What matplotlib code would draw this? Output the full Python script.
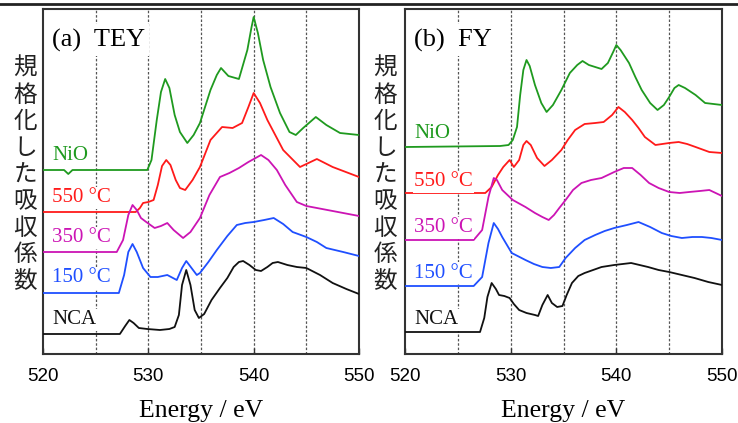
import matplotlib
matplotlib.use("Agg")
import matplotlib.pyplot as plt
from matplotlib.lines import Line2D

# ---- (a) TEY ----
tey_nio_e = [520, 522.0, 522.4, 522.8, 529.9, 530.3, 530.8, 531.2, 531.6, 532.0, 532.5, 533.0, 533.7, 534.3, 534.9,
             535.9, 536.5, 536.9, 537.6, 538.6, 539.4, 539.8, 540.0, 540.4, 540.9, 541.6, 542.5, 543.4, 544.0, 544.7,
             545.9, 546.9, 548.2, 550]
tey_nio = [184, 184, 180, 184, 184, 194, 234, 262, 275, 266, 239, 222, 211, 219, 231, 264, 279, 286, 278, 275, 304,
           327, 337, 321, 294, 267, 241, 222, 219, 226, 237, 229, 221, 219]

tey_550_e = [520, 528.8, 529.2, 529.5, 530.0, 530.5, 530.9, 531.3, 531.7, 532.1, 532.6, 533.0, 533.5, 534.2, 534.9,
             535.9, 537.0, 538.0, 538.9, 539.5, 540.0, 540.6, 541.3, 542.8, 544.4, 546.0, 547.5, 550]
tey_550 = [142, 142, 146, 151, 152, 154, 169, 188, 194, 189, 174, 166, 164, 174, 187, 214, 227, 226, 231, 247, 261,
           251, 234, 204, 187, 195, 187, 177]

tey_350_e = [520, 527.0, 527.6, 528.1, 528.5, 528.9, 529.3, 529.8, 530.6, 531.2, 531.8, 532.4, 533.3, 534.0, 534.9,
             535.8, 536.8, 537.7, 538.6, 539.5, 540.7, 541.4, 542.2, 543.0, 544.1, 545.0, 546.5, 548.0, 550]
tey_350 = [102, 102, 114, 139, 149, 144, 136, 132, 126, 128, 131, 124, 116, 122, 136, 159, 177, 181, 186, 192, 199,
           194, 184, 169, 152, 148, 145, 142, 138]

tey_150_e = [520, 527.2, 527.7, 528.1, 528.5, 528.9, 529.5, 530.2, 530.9, 531.8, 532.7, 533.2, 533.6, 534.1, 534.6,
             534.9, 535.7, 536.5, 537.5, 538.4, 539.2, 540.0, 541.0, 541.9, 542.8, 543.7, 545.0, 546.0, 546.9, 548.5,
             550]
tey_150 = [61, 61, 79, 102, 110, 102, 86, 77, 77, 79, 74, 86, 93, 86, 79, 81, 92, 104, 118, 129, 131, 132, 134, 136,
           130, 122, 117, 112, 106, 102, 98]

tey_nca_e = [520, 527.3, 527.8, 528.2, 528.6, 529.1, 529.9, 531.1, 532.0, 532.5, 532.9, 533.2, 533.6, 534.0, 534.4,
             534.8, 535.3, 536.0, 536.8, 537.5, 538.1, 538.6, 539.0, 539.6, 540.2, 540.7, 541.3, 541.8, 542.3, 543.2,
             544.1, 545.0, 546.3, 547.5, 548.8, 550]
tey_nca = [20, 20, 28, 34, 31, 26, 25, 24, 25, 27, 39, 69, 84, 69, 44, 36, 40, 54, 66, 76, 87, 92, 93, 89, 84, 83,
           87, 91, 92, 89, 87, 86, 79, 71, 65, 60]

# ---- (b) FY ----
fy_nio_e = [520, 529.0, 529.8, 530.2, 530.6, 530.9, 531.2, 531.5, 531.8, 532.3, 532.9, 533.4, 534.0, 534.8, 535.6,
            536.3, 536.8, 537.4, 538.0, 538.6, 539.2, 539.7, 540.0, 540.4, 541.2, 541.8, 542.4, 543.2, 543.9, 544.5,
            545.0, 545.5, 545.9, 546.5, 547.5, 548.4, 550]
fy_nio = [207, 208, 209, 214, 227, 259, 284, 294, 288, 269, 251, 242, 249, 264, 281, 289, 293, 289, 287, 285, 291,
          302, 309, 304, 291, 277, 264, 251, 244, 249, 257, 266, 269, 266, 259, 251, 249]

fy_550_e = [520, 527.6, 528.2, 528.8, 529.3, 529.9, 530.3, 530.8, 531.2, 531.5, 531.9, 532.5, 533.2, 533.9, 534.8,
            535.4, 536.1, 537.0, 538.0, 538.8, 539.6, 540.2, 540.8, 541.5, 542.1, 542.7, 543.7, 545.0, 545.9, 546.7,
            547.5, 548.8, 550]
fy_550 = [161, 161, 167, 179, 187, 194, 187, 194, 209, 213, 209, 196, 188, 194, 204, 214, 224, 230, 231, 232, 239,
          247, 242, 234, 226, 217, 209, 211, 212, 210, 207, 202, 201]

fy_350_e = [520, 526.5, 527.3, 527.9, 528.4, 528.7, 529.2, 530.2, 531.4, 532.3, 533.0, 533.6, 534.1, 534.6, 535.2,
            535.9, 536.7, 537.6, 538.6, 539.8, 540.7, 541.5, 542.3, 543.1, 544.0, 545.0, 546.0, 546.9, 547.9, 548.8,
            550]
fy_350 = [114, 114, 124, 157, 176, 174, 164, 154, 147, 141, 137, 134, 139, 146, 154, 164, 171, 174, 176, 182, 186,
          186, 179, 171, 166, 162, 161, 162, 163, 164, 158]

fy_150_e = [520, 526.5, 527.3, 527.9, 528.4, 528.8, 529.2, 530.1, 531.4, 532.2, 533.0, 533.8, 534.6, 535.2, 536.1,
            537.0, 538.0, 538.9, 539.8, 541.0, 542.1, 543.2, 544.3, 545.2, 546.2, 547.2, 548.1, 549.0, 550]
fy_150 = [68, 68, 77, 111, 131, 125, 117, 101, 94, 90, 87, 86, 87, 96, 106, 114, 119, 123, 126, 129, 132, 127, 121,
          118, 116, 117, 117, 116, 114]

fy_nca_e = [520, 527.1, 527.5, 527.8, 528.2, 528.6, 528.9, 529.4, 529.9, 530.3, 530.8, 531.5, 532.3, 532.6, 533.0,
            533.5, 533.9, 534.4, 534.9, 535.3, 535.8, 536.4, 537.0, 537.8, 538.6, 539.8, 540.6, 541.4, 542.2, 543.0,
            544.0, 545.0, 546.2, 547.4, 548.7, 550]
fy_nca = [22, 22, 36, 57, 71, 65, 59, 58, 56, 50, 44, 41, 39, 38, 49, 59, 51, 47, 48, 59, 71, 78, 81, 84, 87, 89, 90,
          91, 89, 87, 84, 82, 79, 76, 72, 69]

labels = ["NiO", "550 °C", "350 °C", "150 °C", "NCA"]
colors = ["#1f9a1f", "#ff1a1a", "#cc14b4", "#1f4fff", "#111111"]
tey_label_y = [199, 156, 116, 76, 34]
fy_label_y = [220, 172, 126, 81, 34]

serif = "Liberation Serif"
sans = "Liberation Sans"

fig = plt.figure(figsize=(7.38, 4.23), dpi=100)
ax1 = fig.add_axes([43 / 738, 69 / 423, 316 / 738, 345 / 423])
ax2 = fig.add_axes([405 / 738, 69 / 423, 317 / 738, 345 / 423])

panels = [
    (ax1, "(a)  TEY", [(tey_nio_e, tey_nio), (tey_550_e, tey_550), (tey_350_e, tey_350), (tey_150_e, tey_150),
                       (tey_nca_e, tey_nca)], tey_label_y),
    (ax2, "(b)  FY", [(fy_nio_e, fy_nio), (fy_550_e, fy_550), (fy_350_e, fy_350), (fy_150_e, fy_150),
                      (fy_nca_e, fy_nca)], fy_label_y),
]

for ax, title, curves, lab_y in panels:
    for xg in [525, 530, 535, 540, 545]:
        ax.axvline(xg, color="#555555", lw=0.9, ls=(0, (2, 1.5)), zorder=1)
    for (e, v), c in zip(curves, colors):
        ax.plot(e, v, color=c, lw=1.3, zorder=3)
    for lab, yy, c in zip(labels, lab_y, colors):
        ax.text(520.85, yy, lab, color=c, fontsize=15, family=serif, va="center", ha="left", zorder=4,
                bbox=dict(facecolor="white", edgecolor="none", pad=1))
    ax.text(0.028, 0.91, title, transform=ax.transAxes, fontsize=19, family=serif, va="center", ha="left",
            zorder=4, bbox=dict(facecolor="white", edgecolor="none", pad=3))
    ax.set_xlim(520, 550)
    ax.set_ylim(0, 345)
    ax.set_xticks([520, 530, 540, 550])
    ax.set_yticks([])
    ax.tick_params(axis="x", direction="in", length=4, width=1, pad=10, labelsize=13.5, color="#333333")
    for t in ax.get_xticklabels():
        t.set_family(sans)
    ax.set_xlabel("Energy / eV", fontsize=18.5, family=serif, labelpad=11)
    for s in ax.spines.values():
        s.set_color("#333333")
        s.set_linewidth(1.5)

# vertical japanese y labels
ylab = "\n".join("規格化した吸収係数")
fig.text(25 / 738, 1 - 175 / 423, ylab, fontsize=17, family=["Noto Sans CJK JP", "DejaVu Sans"],
         ha="center", va="center", linespacing=1.2, color="#222222")
fig.text(385 / 738, 1 - 175 / 423, ylab, fontsize=17, family=["Noto Sans CJK JP", "DejaVu Sans"],
         ha="center", va="center", linespacing=1.2, color="#222222")

fig.add_artist(Line2D([0, 1], [1 - 4 / 423, 1 - 4 / 423], transform=fig.transFigure, color="#222222", lw=2))

plt.savefig("out.png", dpi=100)
